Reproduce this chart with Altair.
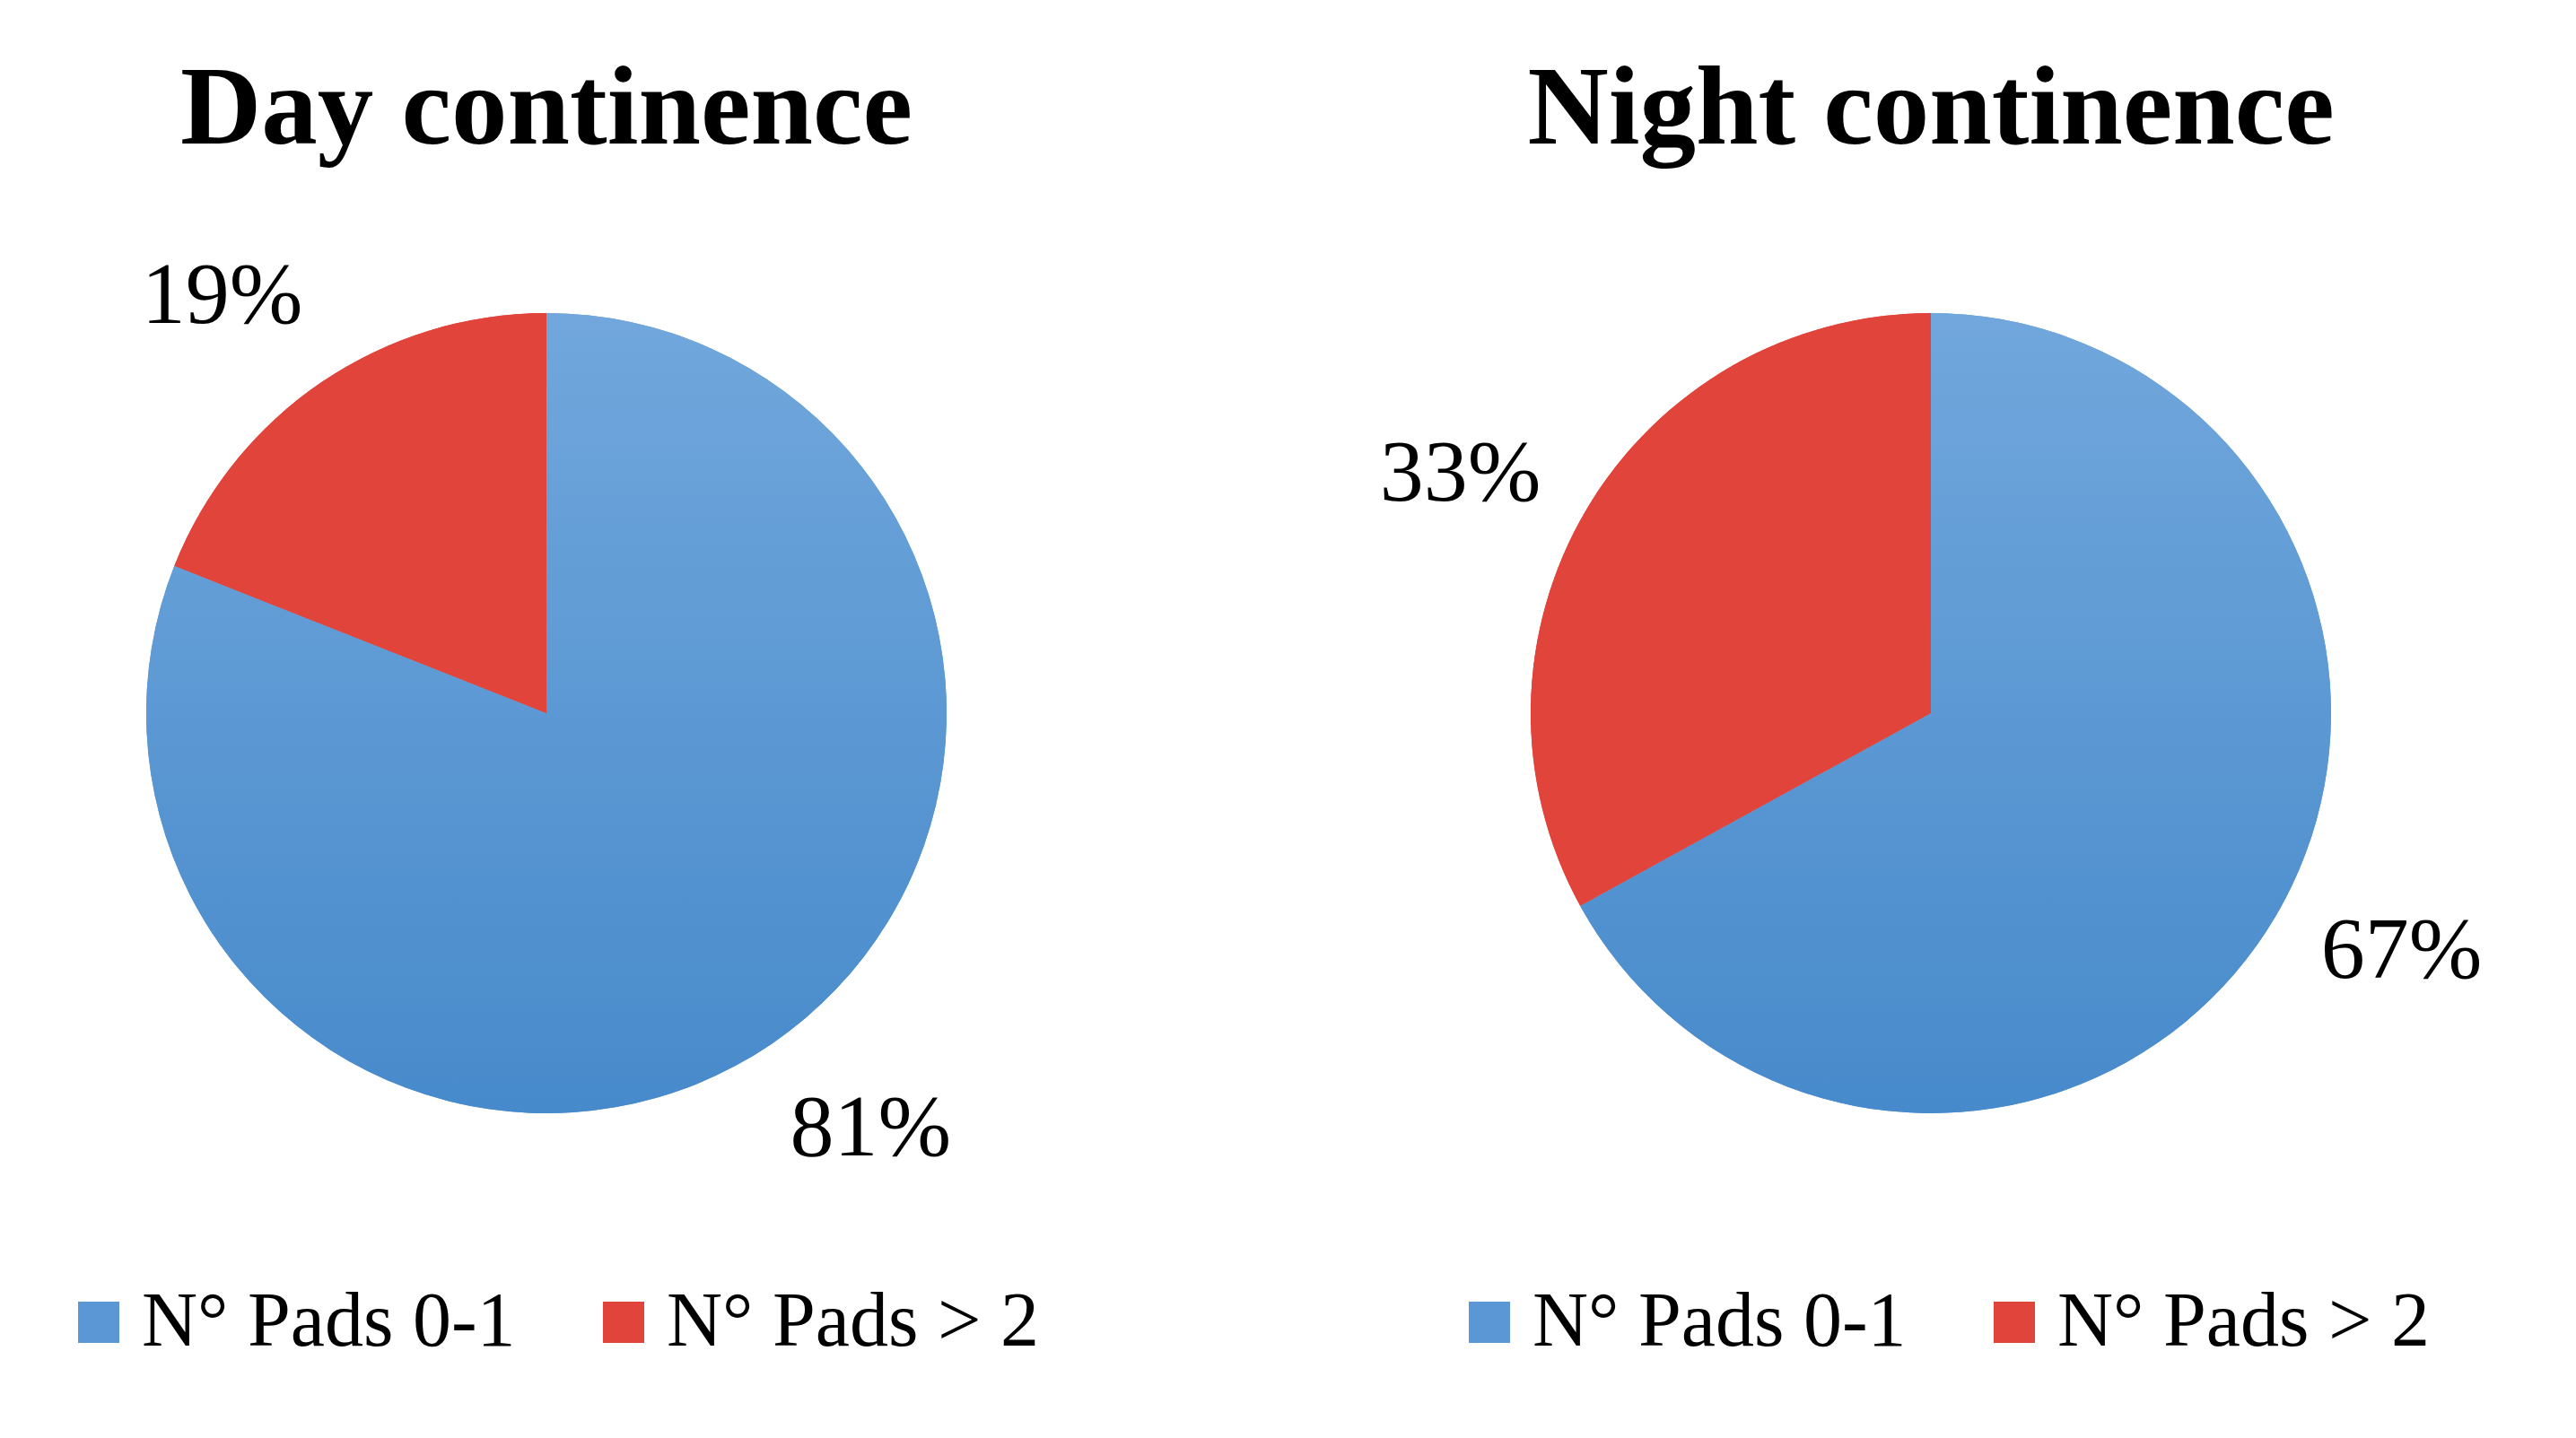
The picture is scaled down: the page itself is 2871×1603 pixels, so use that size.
import altair as alt
import pandas as pd

categories = ["N° Pads 0-1", "N° Pads > 2"]
day_values = [81, 19]
night_values = [67, 33]
titles = ["Day continence", "Night continence"]

BLUE_MID = "#5B97D4"
RED = "#E0443B"
GRADIENT = {
    "gradient": "linear",
    "x1": 0, "y1": 0, "x2": 0, "y2": 1,
    "stops": [
        {"offset": 0, "color": "#71A7DC"},
        {"offset": 1, "color": "#478ACB"},
    ],
}
FONT = "Liberation Serif"
W, H = 1202, 892


def panel(title, values, legend_x):
    df = pd.DataFrame({
        "cat": categories,
        "val": values,
        "order": [0, 1],
        "label": [f"{v}%" for v in values],
    })
    base = alt.Chart(df).encode(
        theta=alt.Theta("val:Q", stack=True),
        order=alt.Order("order:Q"),
    )
    legend_layer = base.mark_arc(radius=446).encode(
        fill=alt.Fill(
            "cat:N",
            scale=alt.Scale(domain=categories, range=[BLUE_MID, RED]),
            legend=alt.Legend(
                orient="none",
                legendX=legend_x,
                legendY=1082,
                direction="horizontal",
                title=None,
                symbolType="square",
                symbolSize=2116,
                symbolStrokeWidth=0,
                labelFont=FONT,
                labelFontSize=86,
                labelColor="black",
                labelOffset=5,
                columnPadding=77,
                labelLimit=1000,
            ),
        )
    )
    fill_layer = base.mark_arc(radius=446).encode(
        fill=alt.condition("datum.order == 0", alt.value(GRADIENT), alt.value(RED))
    )
    labels = base.mark_text(
        radius=588, thetaOffset=-0.065, font=FONT, fontSize=98, color="black"
    ).encode(text="label:N")
    title_layer = alt.Chart(pd.DataFrame({"t": [title]})).mark_text(
        font=FONT, fontSize=125, fontWeight="bold", color="black",
        baseline="alphabetic", align="center",
    ).encode(text="t:N", x=alt.value(W / 2), y=alt.value(-189))
    return alt.layer(legend_layer, fill_layer, labels, title_layer).properties(
        width=W, height=H
    )


chart = alt.hconcat(
    panel(titles[0], day_values, 59),
    panel(titles[1], night_values, 66),
    spacing=341,
    bounds="flush",
).resolve_scale(fill="independent").resolve_legend(fill="independent").properties(
    padding={"top": 52, "left": 0, "right": 0, "bottom": 0}
).configure_view(strokeWidth=0)

chart.save("out.html", embed_options={"renderer": "svg", "actions": False})
